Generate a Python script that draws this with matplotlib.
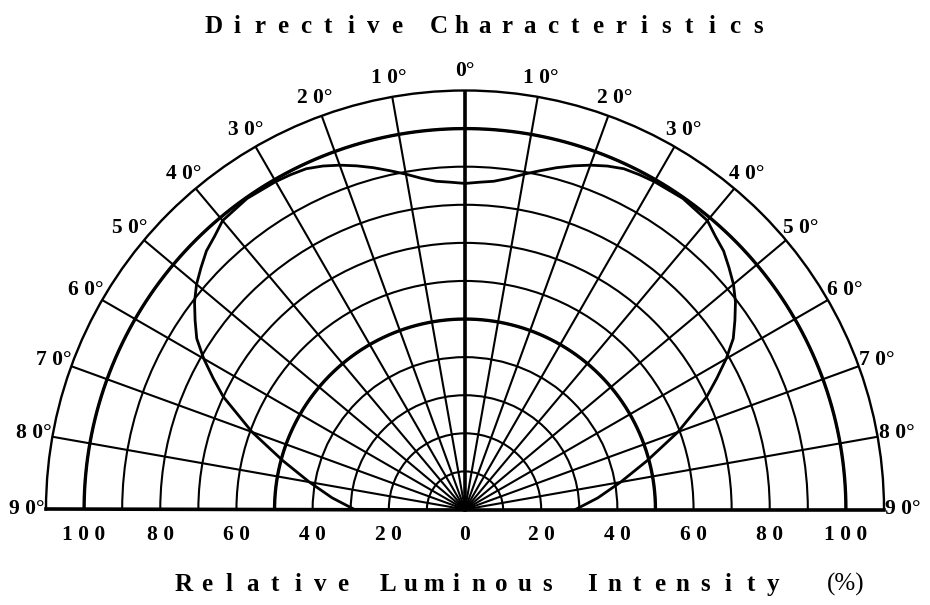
import numpy as np
import matplotlib
matplotlib.use('Agg')
import matplotlib.pyplot as plt
from matplotlib.transforms import offset_copy

W, H = 930, 605

# directive curve (symmetric about 0 deg)
angles = [0, 2.5, 5, 7.5, 10, 12.5, 15, 17.5, 20, 22.5, 25, 27.5, 30, 35, 40, 42.5,
          45, 47.5, 50, 52.5, 55, 57.5, 60, 62.5, 65, 70, 75, 80, 85, 90]
intensity = [85.6, 86.0, 86.5, 87.7, 89.4, 91.1, 92.9, 94.6, 96.2, 97.6, 98.7, 99.1, 99.4, 99.7, 99.0, 97.3,
             96.0, 94.0, 92.0, 89.5, 86.5, 83.5, 79.2, 74.5, 70.0, 59.5, 49.5, 41.5, 35.0, 29.0]

grid_radii = [10, 20, 30, 40, 50, 60, 70, 80, 90, 100]
bold_radii = [50, 100]
grid_angles = list(range(-90, 91, 10))
label_angles = [0, 10, 20, 30, 40, 50, 60, 70, 80, 90]
r_ticks = [100, 80, 60, 40, 20, 0]

title = 'Directive Characteristics'
xlabel = 'Relative Luminous Intensity'

plt.rcParams['font.family'] = ['Liberation Serif', 'DejaVu Serif']

fig = plt.figure(figsize=(W / 100, H / 100), dpi=100)
# square box, the half disc is centred in it -> baseline 509.5 px from the top
ax = fig.add_axes([46 / W, -114 / H, 838 / W, 838 / H], projection='polar')
ax.set_theta_zero_location('N')
ax.set_thetamin(-90)
ax.set_thetamax(90)
ax.set_rlim(0, 110)

ax.set_xticks(np.radians(grid_angles))
ax.set_xticklabels([])
ax.set_yticks(grid_radii)
ax.set_yticklabels([])
ax.tick_params(length=0)
ax.grid(True, color='black', lw=1.5)
ax.spines['polar'].set_linewidth(1.7)
ax.spines['start'].set_linewidth(2.6)
ax.spines['end'].set_linewidth(2.6)

th = np.linspace(-np.pi / 2, np.pi / 2, 300)
for r in bold_radii:
    ax.plot(th, np.full_like(th, r), color='black', lw=2.4)
ax.plot([0, 0], [0, 110], color='black', lw=2.6)

# mirror the half curve
a = np.radians(angles)
curve_th = np.concatenate([-a[::-1], a[1:]])
curve_r = np.concatenate([intensity[::-1], intensity[1:]])
ax.plot(curve_th, curve_r, color='black', lw=2.0)

# angle labels round the rim
for ang in label_angles:
    lab = ' '.join(str(ang)) + '°'
    for sgn in ([1] if ang == 0 else [1, -1]):
        ax.text(np.radians(sgn * ang), 115, lab, ha='center', va='center',
                fontsize=15.5, fontweight='bold')

# intensity scale under the baseline
below = offset_copy(ax.transData, fig=fig, x=0, y=-26, units='dots')
for r in r_ticks:
    lab = ' '.join(str(r))
    for sgn in ([1] if r == 0 else [1, -1]):
        ax.text(sgn * np.pi / 2, r, lab, transform=below, ha='center', va='center',
                fontsize=15.5, fontweight='bold')


def spaced(s, x0, y, step, gap, **kw):
    x = x0
    for word in s.split(' '):
        for ch in word:
            fig.text(x / W, 1 - y / H, ch, ha='center', va='baseline', **kw)
            x += step
        x += gap - step
    return x


spaced(title, 214, 33, 22.8, 42, fontsize=18, fontweight='bold')
spaced(xlabel, 184, 591, 22.7, 45, fontsize=18, fontweight='bold')
fig.text(846 / W, 1 - 591 / H, '(%)', ha='center', va='baseline', fontsize=18)

fig.savefig('out.png', dpi=100)
